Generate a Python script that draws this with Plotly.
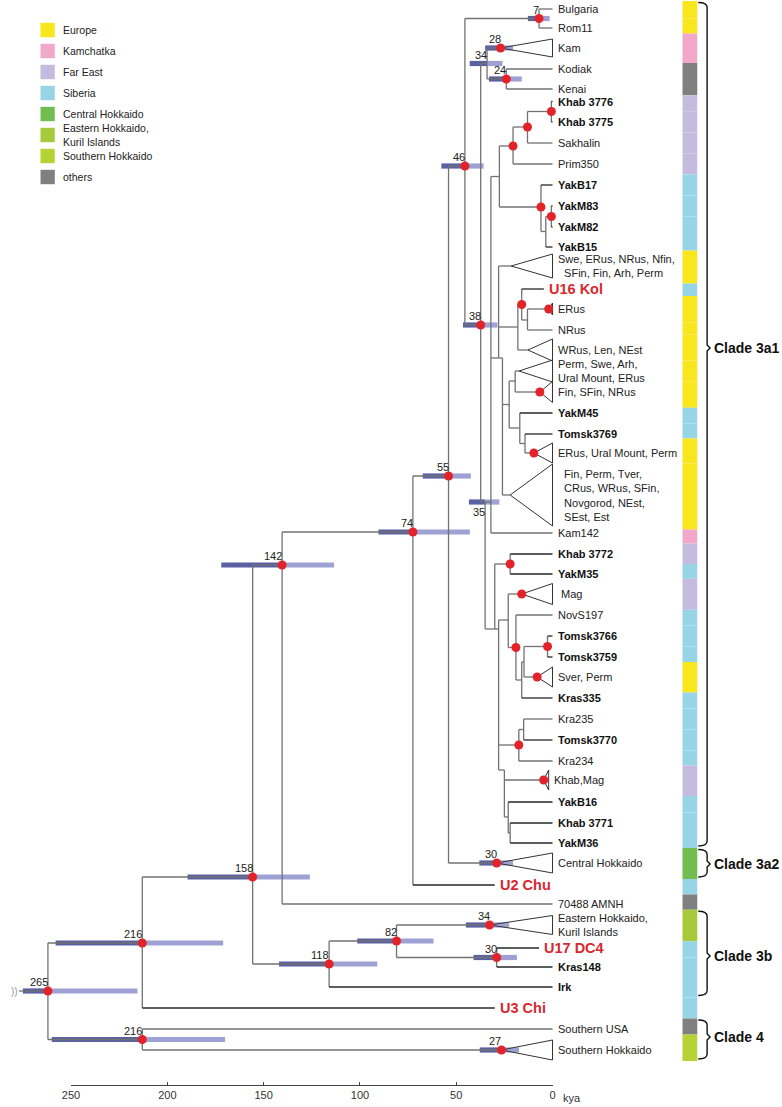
import plotly.graph_objects as go

W, H = 782, 1107
FONT = "Liberation Sans, Arial, Helvetica, sans-serif"

# ---------------- regions (legend + colour strip) ----------------
region_keys = ["EU", "KA", "FE", "SI", "CH", "EH", "SH", "OT"]
region_names = ["Europe", "Kamchatka", "Far East", "Siberia", "Central Hokkaido",
                "Eastern Hokkaido,<br>Kuril Islands", "Southern Hokkaido", "others"]
region_colors = ["#F8E71C", "#F2A8C8", "#C4BBDE", "#97D5E6", "#72BD4F",
                 "#A7CA3B", "#B5D334", "#808080"]

# ---------------- internal nodes ----------------
node_id = ["r265", "n216a", "n216b", "n158", "n142", "n118", "n82", "nEH", "n30b", "n74",
           "n55", "nCH", "n46", "n7", "n38", "n34", "nKam", "n24", "n35", "nA",
           "nFE", "nK3", "nK2", "nK1", "nY3", "nY2", "nY1", "nSB", "nSwe", "nW",
           "nU16", "nE1", "nER", "nWR", "nBig", "nPYT", "nP", "nPerm", "nFin", "nYT",
           "nT", "nEUP", "nBT", "nQ", "nLow", "nKY", "nMN", "nMag", "nN", "nTSK",
           "nTS", "nTo", "nSv", "nR", "nKTK", "nKT", "nKM", "nYB", "nY36", "nSH"]
node_parent = [None, "r265", "r265", "n216a", "n158", "n158", "n118", "n82", "n82", "n142",
               "n74", "n55", "n55", "n46", "n46", "n38", "n34", "n34", "n38", "n35",
               "nA", "nFE", "nK3", "nK2", "nFE", "nY3", "nY2", "nA", "nSB", "nSB",
               "nW", "nU16", "nE1", "nW", "nSB", "nBig", "nPYT", "nP", "nP", "nPYT",
               "nYT", "nT", "nBig", "n35", "nQ", "nQ", "nLow", "nMN", "nMN", "nN",
               "nTSK", "nTS", "nTS", "nLow", "nLow", "nKTK", "nR", "nR", "nYB", "n216b"]
# node age in kya (horizontal position)
node_age = [262, 213, 213, 155.7, 140.4, 116, 81, 32.7, 29, 72.5,
            54, 29, 45.5, 7, 37.3, 34, 27, 24, 35, 32,
            27.6, 20.5, 13, 0.6, 6, 3.5, 0.6, 28, 21.5, 18,
            16, 13, 2, 12.8, 26, 22.5, 19.4, 17.4, 6.6, 17,
            14.3, 9.7, 22, 30, 28, 22, 23, 16, 19, 16,
            14.8, 2.6, 8, 25, 17.5, 15, 4.6, 23, 22, 26.5]
# vertical row position of node
node_row = [991, 943, 1039.5, 877, 565, 964, 941, 925, 957.5, 532,
            476, 863, 166, 18.5, 325, 63.5, 48, 79, 502, 502,
            176.5, 146, 127, 111.5, 207, 231.5, 216.5, 358, 266, 327,
            304.5, 320, 309, 350, 358, 404.5, 381, 371, 392, 428,
            443.5, 453, 495, 629, 629, 564, 620, 594, 647.5, 680,
            662, 646.5, 677, 770, 745, 729.5, 780, 817, 833, 1050]
# high posterior support (red dot)
node_dot = [1, 1, 1, 1, 1, 1, 1, 1, 1, 1,
            1, 1, 1, 1, 1, 0, 1, 1, 0, 0,
            0, 1, 1, 1, 1, 0, 1, 0, 0, 0,
            1, 0, 1, 0, 0, 0, 0, 0, 1, 0,
            0, 1, 0, 0, 0, 1, 0, 1, 1, 0,
            0, 1, 1, 0, 1, 0, 1, 0, 0, 1]
# node age labels and 95% HPD intervals (kya)
node_label = {"r265": "265", "n216a": "216", "n216b": "216", "n158": "158", "n142": "142",
              "n118": "118", "n82": "82", "nEH": "34", "n30b": "30", "n74": "74",
              "n55": "55", "nCH": "30", "n46": "46", "n7": "7", "n38": "38",
              "n34": "34", "nKam": "28", "n24": "24", "n35": "35", "nSH": "27"}
hpd_old = {"r265": 275, "n216a": 258, "n216b": 260, "n158": 189.5, "n142": 172,
           "n118": 142, "n82": 101.4, "nEH": 45, "n30b": 41, "n74": 90.4,
           "n55": 67.4, "nCH": 38, "n46": 57.7, "n7": 12.8, "n38": 46.5,
           "n34": 43, "nKam": 35, "n24": 33, "n35": 43.4, "nSH": 37.8}
hpd_young = {"r265": 215.5, "n216a": 171, "n216b": 170, "n158": 126, "n142": 113.4,
             "n118": 91, "n82": 61.8, "nEH": 22.5, "n30b": 18.5, "n74": 42.9,
             "n55": 42.4, "nCH": 20.5, "n46": 35.8, "n7": 1.5, "n38": 28.6,
             "n34": 26, "nKam": 20.5, "n24": 16, "n35": 27.6, "nSH": 17.4}
label_below = ["n35"]
root_stem_age = 277

# ---------------- tips ----------------
tip_name = ["Bulgaria", "Rom11", "Kam", "Kodiak", "Kenai", "Khab 3776", "Khab 3775", "Sakhalin",
            "Prim350", "YakB17", "YakM83", "YakM82", "YakB15",
            "Swe, ERus, NRus, Nfin,<br>  SFin, Fin, Arh, Perm", "U16 Kol", "ERus", "NRus",
            "WRus, Len, NEst", "Perm, Swe, Arh,<br>Ural Mount, ERus", "Fin, SFin, NRus",
            "YakM45", "Tomsk3769", "ERus, Ural Mount, Perm",
            "  Fin, Perm, Tver,<br>  CRus, WRus, SFin,<br>  Novgorod, NEst,<br>  SEst, Est",
            "Kam142", "Khab 3772", "YakM35", " Mag", "NovS197", "Tomsk3766", "Tomsk3759",
            "Sver, Perm", "Kras335", "Kra235", "Tomsk3770", "Kra234", "Khab,Mag", "YakB16",
            "Khab 3771", "YakM36", "Central Hokkaido", "U2 Chu", "70488 AMNH",
            "Eastern Hokkaido,<br>Kuril Islands", "U17 DC4", "Kras148", "Irk", "U3 Chi",
            "Southern USA", "Southern Hokkaido"]
tip_parent = ["n7", "n7", "nKam", "n24", "n24", "nK1", "nK1", "nK2",
              "nK3", "nY3", "nY1", "nY1", "nY2",
              "nSwe", "nU16", "nER", "nE1",
              "nWR", "nPerm", "nFin",
              "nYT", "nT", "nEUP", "nBT",
              "nA", "nKY", "nKY", "nMag", "nN", "nTo", "nTo",
              "nSv", "nTSK", "nKT", "nKT", "nKTK", "nKM", "nYB",
              "nY36", "nY36", "nCH", "n74", "n142",
              "nEH", "n30b", "n30b", "n118", "n216a",
              "n216b", "nSH"]
tip_row = [9, 28, 48, 69, 89, 101.5, 122, 143,
           164, 185, 206, 227, 247,
           266, 289, 309, 330,
           350, 371, 392,
           413, 434, 453, 495,
           533, 554, 574, 594, 615, 636, 657,
           677, 698, 719, 740, 761, 780, 802,
           823, 843, 863, 885, 904,
           925, 948, 967, 987, 1008,
           1029, 1050]
# sampling age of tip (kya); ancient samples end before 0
tip_age = [0, 0, 0, 0, 0, 0, 0, 0,
           0, 0, 0, 0, 0,
           0, 4.5, 0, 0,
           0, 0, 0,
           0, 0, 0, 0,
           0, 0, 0, 0, 0, 0, 0,
           0, 0, 0, 0, 0, 2, 0,
           0, 0, 0, 30, 0,
           0, 7, 0, 0, 30,
           0, 0]
# label style: n normal, b bold (new samples), r ancient samples
tip_style = ["n", "n", "n", "n", "n", "b", "b", "n",
             "n", "b", "b", "b", "b",
             "n", "r", "n", "n",
             "n", "n", "n",
             "b", "b", "n", "n",
             "n", "b", "b", "n", "n", "b", "b",
             "n", "b", "n", "b", "n", "n", "b",
             "b", "b", "n", "r", "n",
             "n", "r", "b", "b", "r",
             "n", "n"]
tip_region = ["EU", "EU", "KA", "OT", "OT", "FE", "FE", "FE",
              "FE", "SI", "SI", "SI", "SI",
              "EU", "SI", "EU", "EU",
              "EU", "EU", "EU",
              "SI", "SI", "EU", "EU",
              "KA", "FE", "SI", "FE", "SI", "SI", "SI",
              "EU", "SI", "SI", "SI", "SI", "FE", "SI",
              "SI", "SI", "CH", "SI", "OT",
              "EH", "SI", "SI", "SI", "SI",
              "OT", "SH"]
# half-height of collapsed-clade triangles (0 = single sequence)
tip_spread = [0, 0, 9, 0, 0, 0, 0, 0,
              0, 0, 0, 0, 0,
              12, 0, 6, 0,
              11, 11, 10.5,
              0, 0, 10, 31,
              0, 0, 0, 10.5, 0, 0, 0,
              10, 0, 0, 0, 0, 10, 0,
              0, 0, 10, 0, 0,
              9.5, 0, 0, 0, 0,
              0, 10]

# ---------------- clades ----------------
clade_names = ["Clade 3a1", "Clade 3a2", "Clade 3b", "Clade 4"]
clade_first = ["Bulgaria", "Central Hokkaido", "Eastern Hokkaido,<br>Kuril Islands", "Southern USA"]
clade_last = ["YakM36", "Central Hokkaido", "Irk", "Southern Hokkaido"]
clade_label_row = [348, 864, 956, 1037]

axis_ticks = [0, 50, 100, 150, 200, 250]

# =============== drawing ===============
PX0, PX_PER_KYA = 552.0, 1.956   # where 0 kya sits and scale (axis 0..250 kya)
x_left = PX0 / PX_PER_KYA
x_right = -(W - PX0) / PX_PER_KYA

idx = {n: i for i, n in enumerate(node_id)}
GRAY = "#727272"
DARK = "#262626"
RED = "#D7282F"

gx, gy, dx, dy = [], [], [], []


def seg(xs, ys, dark=False):
    if dark:
        dx.extend(list(xs) + [None]); dy.extend(list(ys) + [None])
    else:
        gx.extend(list(xs) + [None]); gy.extend(list(ys) + [None])


children_rows = {n: [] for n in node_id}
for i, n in enumerate(node_id):
    p = node_parent[i]
    if p is None:
        seg([root_stem_age, node_age[i]], [node_row[i], node_row[i]])
        continue
    children_rows[p].append(node_row[i])
    seg([node_age[idx[p]], node_age[i]], [node_row[i], node_row[i]])
for j in range(len(tip_name)):
    children_rows[tip_parent[j]].append(tip_row[j])

for n, rows in children_rows.items():
    r = rows + [node_row[idx[n]]]
    if max(r) - min(r) > 0:
        seg([node_age[idx[n]], node_age[idx[n]]], [min(r), max(r)])

tri_x, tri_y = [], []
for j in range(len(tip_name)):
    p = idx[tip_parent[j]]
    pa, pr = node_age[p], node_row[p]
    if tip_spread[j] > 0:
        s = tip_spread[j]
        tri_x += [pa, tip_age[j], tip_age[j], pa, None]
        tri_y += [pr, pr - s, pr + s, pr, None]
    else:
        seg([pa, tip_age[j]], [tip_row[j], tip_row[j]], dark=tip_style[j] != "n")

fig = go.Figure()
fig.add_trace(go.Scatter(x=gx, y=gy, mode="lines", line=dict(color=GRAY, width=1.3),
                         hoverinfo="skip", showlegend=False))
fig.add_trace(go.Scatter(x=dx, y=dy, mode="lines", line=dict(color=DARK, width=1.3),
                         hoverinfo="skip", showlegend=False))
fig.add_trace(go.Scatter(x=tri_x, y=tri_y, mode="lines", line=dict(color="#333333", width=1),
                         hoverinfo="skip", showlegend=False))

# HPD bars
shapes = []
for n in hpd_old:
    a, r = node_age[idx[n]], node_row[idx[n]]
    shapes.append(dict(type="rect", xref="x", yref="y", x0=hpd_old[n], x1=a,
                       y0=r - 2.6, y1=r + 2.6, fillcolor="#5a61a3", line=dict(width=0), layer="below"))
    shapes.append(dict(type="rect", xref="x", yref="y", x0=a, x1=hpd_young[n],
                       y0=r - 2.6, y1=r + 2.6, fillcolor="#9da1d3", line=dict(width=0), layer="below"))

# posterior dots
dot_x = [node_age[i] for i in range(len(node_id)) if node_dot[i]]
dot_y = [node_row[i] for i in range(len(node_id)) if node_dot[i]]
fig.add_trace(go.Scatter(x=dot_x, y=dot_y, mode="markers",
                         marker=dict(color="#E3232A", size=9, line=dict(width=0)),
                         hoverinfo="skip", showlegend=False))

annotations = []
# tip labels
for j, name in enumerate(tip_name):
    st = tip_style[j]
    if st == "r":
        f = dict(family=FONT, size=14.5, color=RED)
        txt = "<b>" + name + "</b>"
    elif st == "b":
        f = dict(family=FONT, size=11, color="#111111")
        txt = "<b>" + name + "</b>"
    else:
        f = dict(family=FONT, size=11, color="#222222")
        txt = name
    annotations.append(dict(x=tip_age[j], y=tip_row[j], xref="x", yref="y", text=txt,
                            showarrow=False, xanchor="left", yanchor="middle", align="left",
                            xshift=3, font=f))
# node labels
for n, lab in node_label.items():
    below = n in label_below
    annotations.append(dict(x=node_age[idx[n]], y=node_row[idx[n]], xref="x", yref="y",
                            text=lab, showarrow=False, xanchor="right",
                            yanchor="top" if below else "bottom",
                            xshift=2, yshift=-2 if below else 1,
                            font=dict(family=FONT, size=11, color="#222222")))

# root break marks
annotations.append(dict(x=root_stem_age, y=node_row[0], xref="x", yref="y", text="))",
                        showarrow=False, xanchor="right", xshift=1,
                        font=dict(family=FONT, size=10, color="#999999")))

# colour strip
tops = [tip_row[j] - tip_spread[j] for j in range(len(tip_name))]
bots = [tip_row[j] + tip_spread[j] for j in range(len(tip_name))]
bounds = [tops[0] - 8]
for j in range(len(tip_name) - 1):
    bounds.append((bots[j] + tops[j + 1]) / 2)
bounds.append(bots[-1] + 1)
rc = dict(zip(region_keys, region_colors))
SX0, SX1 = 684 / W, 699 / W
for j in range(len(tip_name)):
    shapes.append(dict(type="rect", xref="paper", yref="y", x0=SX0, x1=SX1,
                       y0=bounds[j], y1=bounds[j + 1], fillcolor=rc[tip_region[j]],
                       line=dict(width=0)))

# clade brackets
BX0, BX1 = 700 / W, 709 / W
for k, cn in enumerate(clade_names):
    j0, j1 = tip_name.index(clade_first[k]), tip_name.index(clade_last[k])
    top, bot = bounds[j0] + 1.5, bounds[j1 + 1] - 2
    mid = clade_label_row[k]
    path = (f"M {BX0},{top} Q {BX1},{top} {BX1},{top + 5} L {BX1},{mid - 3} "
            f"L {BX1 + 3 / W},{mid} L {BX1},{mid + 3} L {BX1},{bot - 5} Q {BX1},{bot} {BX0},{bot}")
    shapes.append(dict(type="path", xref="paper", yref="y", path=path,
                       line=dict(color="#111111", width=1.4)))
    annotations.append(dict(x=714 / W, y=mid, xref="paper", yref="y", text="<b>" + cn + "</b>",
                            showarrow=False, xanchor="left", yanchor="middle",
                            font=dict(family=FONT, size=14, color="#111111")))

# legend
for i, (nm, col) in enumerate(zip(region_names, region_colors)):
    c = 30 + 21 * i
    shapes.append(dict(type="rect", xref="paper", yref="paper", x0=32 / W, x1=46.5 / W,
                       y0=1 - (c + 7.2) / H, y1=1 - (c - 7.2) / H, fillcolor=col, line=dict(width=0)))
    annotations.append(dict(x=53 / W, y=1 - c / H, xref="paper", yref="paper", text=nm,
                            showarrow=False, xanchor="left", yanchor="middle", align="left",
                            font=dict(family=FONT, size=10.5, color="#222222")))

# "kya"
annotations.append(dict(x=0, y=1098, xref="x", yref="y", text="kya", showarrow=False,
                        xanchor="left", yanchor="middle", xshift=8,
                        font=dict(family=FONT, size=11, color="#333333")))

# invisible trace for the time axis
fig.add_trace(go.Scatter(x=[0, 250], y=[0, 0], xaxis="x2", yaxis="y2", mode="markers",
                         marker=dict(opacity=0), hoverinfo="skip", showlegend=False))

AX_Y = 1085
fig.update_layout(
    width=W, height=H, autosize=False,
    margin=dict(l=0, r=0, t=0, b=0),
    paper_bgcolor="white", plot_bgcolor="rgba(0,0,0,0)",
    xaxis=dict(range=[x_left, x_right], visible=False, domain=[0, 1], fixedrange=True),
    yaxis=dict(range=[H, 0], visible=False, domain=[0, 1], fixedrange=True),
    xaxis2=dict(domain=[(PX0 - 250 * PX_PER_KYA) / W, PX0 / W], range=[250, 0], anchor="y2",
                tickvals=axis_ticks, ticks="inside", ticklen=3, tickcolor="#444444",
                showline=True, linecolor="#444444", linewidth=1, showgrid=False, zeroline=False,
                tickfont=dict(family=FONT, size=11, color="#333333")),
    yaxis2=dict(domain=[1 - AX_Y / H, 1 - (AX_Y - 8) / H], range=[0, 1], visible=False),
    shapes=shapes, annotations=annotations, showlegend=False,
)

fig.write_html("out.html", config={"displayModeBar": False},
               post_script="document.body.style.margin='0';document.body.style.overflow='hidden';")
